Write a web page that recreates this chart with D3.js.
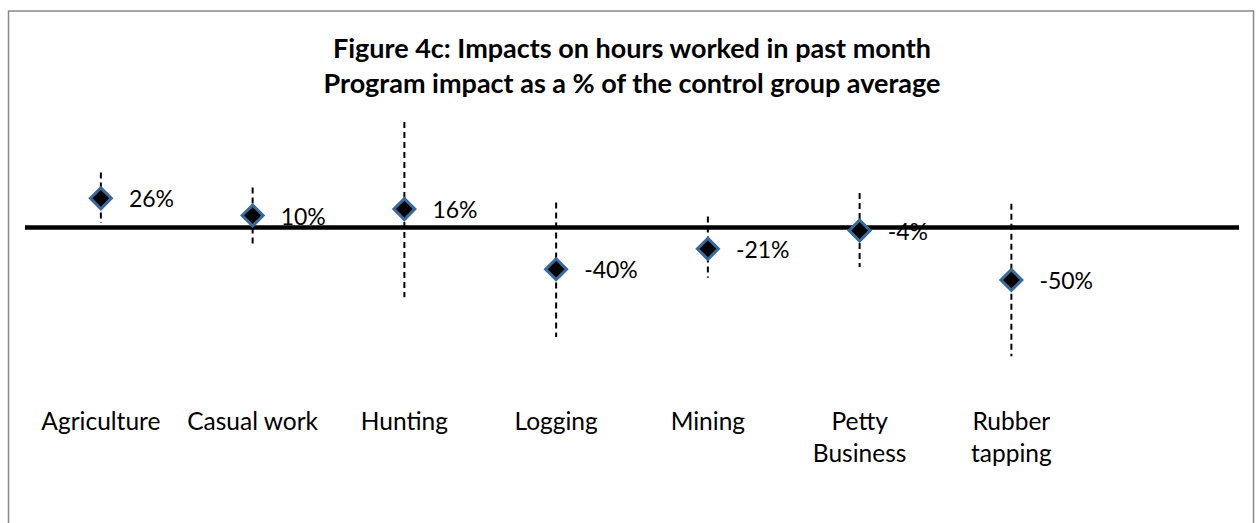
<!DOCTYPE html>
<html>
<head>
<meta charset="utf-8">
<script src="https://cdn.jsdelivr.net/npm/d3@7"></script>
<style>
  body { margin: 0; background: #fff; }
  svg { display: block; }
  text { font-family: Lato, "Open Sans", sans-serif; fill: #000; }
</style>
</head>
<body>
<svg id="chart" width="1257" height="523"></svg>
<script>
const categories = ['Agriculture', 'Casual work', 'Hunting', 'Logging', 'Mining', 'Petty Business', 'Rubber tapping'];
const impact = [26, 10, 16, -40, -21, -4, -50];
const ciLow = [3, -17, -66, -103, -48, -38, -121];
const ciHigh = [50, 36, 97, 22, 9, 31, 21];
const titleLines = ['Figure 4c: Impacts on hours worked in past month', 'Program impact as a % of the control group average'];

const svg = d3.select('#chart');
const width = +svg.attr('width');
const height = +svg.attr('height');

// chart frame
svg.append('rect')
  .attr('x', 8.5)
  .attr('y', 11)
  .attr('width', 1245)
  .attr('height', height + 20)
  .attr('fill', 'none')
  .attr('stroke', '#888')
  .attr('stroke-width', 1.5);

svg.append('text')
  .attr('text-anchor', 'middle')
  .attr('font-weight', 'bold')
  .attr('font-size', 27)
  .selectAll('tspan')
  .data(titleLines)
  .join('tspan')
    .attr('x', 632)
    .attr('y', (d, i) => 58 + i * 35)
    .text(d => d);

// one empty slot at the end, like the blank row in the sheet
const x = d3.scaleBand()
  .domain(d3.range(categories.length + 1))
  .range([25, 1239]);

const y = d3.scaleLinear()
  .domain([-150, 100])
  .range([387.5, 118.75]);

const data = categories.map((c, i) => ({
  c, i, v: impact[i], lo: ciLow[i], hi: ciHigh[i]
}));

const cx = d => x(d.i) + x.bandwidth() / 2;

// zero line
svg.append('line')
  .attr('x1', x.range()[0])
  .attr('x2', x.range()[1])
  .attr('y1', y(0) + 1.2)
  .attr('y2', y(0) + 1.2)
  .attr('stroke', '#000')
  .attr('stroke-width', 4.5);

svg.append('g')
  .selectAll('line')
  .data(data)
  .join('line')
    .attr('x1', cx)
    .attr('x2', cx)
    .attr('y1', d => y(d.hi))
    .attr('y2', d => y(d.lo))
    .attr('stroke', '#000')
    .attr('stroke-width', 2)
    .attr('stroke-dasharray', '6,4');

svg.append('g')
  .selectAll('path')
  .data(data)
  .join('path')
    .attr('d', d3.symbol(d3.symbolSquare, 220))
    .attr('transform', d => `translate(${cx(d)},${y(d.v)}) rotate(45)`)
    .attr('fill', '#000')
    .attr('stroke', '#3a6a9c')
    .attr('stroke-width', 3);

svg.append('g')
  .attr('font-size', 23)
  .selectAll('text')
  .data(data)
  .join('text')
    .attr('x', d => cx(d) + 28)
    .attr('y', d => y(d.v) + 9)
    .text(d => d.v + '%');

// category labels, wrapped like the sheet does
const words = c => c.split(' ');
const wrap = c => (c === 'Casual work' ? [c] : words(c));

svg.append('g')
  .attr('font-size', 24.5)
  .attr('text-anchor', 'middle')
  .selectAll('text')
  .data(data)
  .join('text')
    .each(function (d) {
      d3.select(this).selectAll('tspan')
        .data(wrap(d.c))
        .join('tspan')
          .attr('x', cx(d))
          .attr('y', (t, k) => 430 + k * 31.5)
          .text(t => t);
    });
</script>
</body>
</html>
